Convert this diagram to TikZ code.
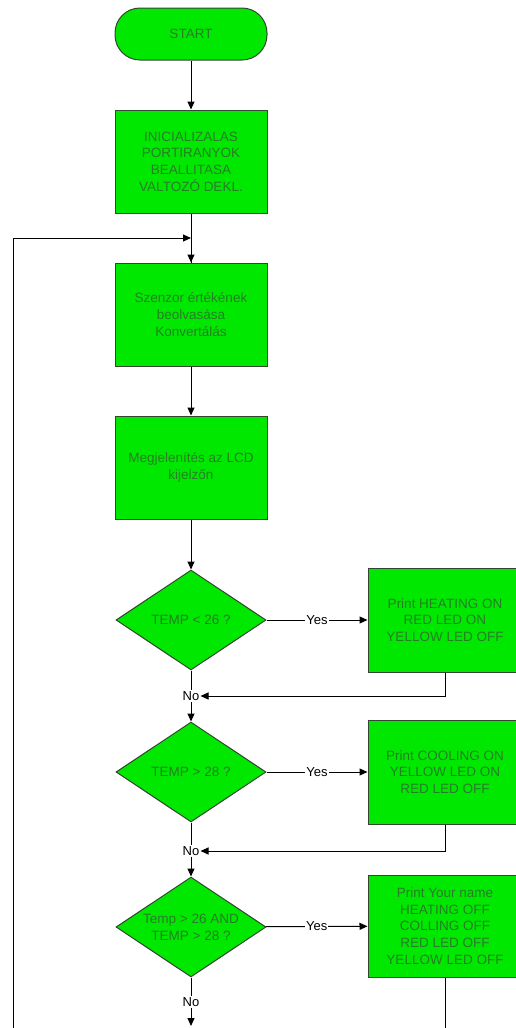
\documentclass[tikz,border=0pt]{standalone}
\usepackage{fontspec}
\setmainfont{Liberation Sans}
\usepackage{tikz}
\usetikzlibrary{arrows.meta,positioning}
\usetikzlibrary{shapes.geometric}
\definecolor{boxgreen}{RGB}{0,232,0}
\definecolor{boxtext}{RGB}{40,125,40}
\definecolor{boxline}{RGB}{50,70,50}

\begin{document}
\begin{tikzpicture}[x=1pt, y=-1pt,
        every node/.style={font=\fontsize{13.5}{16.7}\selectfont},
        terminal/.style={rectangle, rounded corners=25pt, draw=boxline, fill=boxgreen, text=boxtext, line width=1pt, minimum width=152pt, minimum height=52pt},
        process/.style={rectangle, draw=boxline, fill=boxgreen, text=boxtext, line width=1pt, align=center, minimum width=152pt, minimum height=103pt},
        decision/.style={diamond, aspect=1.5, draw=boxline, fill=boxgreen, text=boxtext, line width=1pt, align=center, inner sep=0pt, minimum width=150pt, minimum height=100pt},
        flowlabel/.style={fill=white, inner sep=1pt, font=\fontsize{13}{15}\selectfont},
        flow/.style={line width=1pt, -{Triangle[length=8pt,width=7pt]}}]
        \useasboundingbox (0,0) rectangle (515,1028);
        \def\mainx{191}
        \def\sidex{445}

        % main column
        \node(start) [terminal] at (\mainx,34) {START};
        \node(init) [process] at (\mainx,161.5) {INICIALIZALAS\\PORTIRANYOK\\BEALLITASA\\VALTOZÓ DEKL.};
        \node(read) [process] at (\mainx,314.5) {Szenzor értékének\\beolvasása\\Konvertálás};
        \node(lcd) [process] at (\mainx,467.5) {Megjelenítés az LCD\\kijelzőn};

        % decisions
        \node(dec1) [decision] at (\mainx,620) {TEMP < 26 ?};
        \node(dec2) [decision] at (\mainx,772) {TEMP > 28 ?};
        \node(dec3) [decision] at (\mainx,927) {Temp > 26 AND\\TEMP > 28 ?};

        % actions
        \node(heat) [process, minimum width=154pt, minimum height=104pt] at (\sidex,620) {Print HEATING ON\\RED LED ON\\YELLOW LED OFF};
        \node(cool) [process, minimum width=154pt, minimum height=104pt] at (\sidex,772) {Print COOLING ON\\YELLOW LED ON\\RED LED OFF};
        \node(name) [process, minimum width=154pt, minimum height=102pt] at (\sidex,926) {Print Your name\\HEATING OFF\\COLLING OFF\\RED LED OFF\\YELLOW LED OFF};

        % No labels
        \node(no1) [flowlabel] at (\mainx,696) {No};
        \node(no2) [flowlabel] at (\mainx,851) {No};
        \node(no3) [flowlabel] at (\mainx,1002) {No};

        \coordinate(join) at (\mainx,238);
        \coordinate(loopend) at (13,1028);
        \coordinate(downend) at (\mainx,1026);
        \coordinate(nameend) at (\sidex,1028);

        \draw[flow] (start) -- (init);
        \draw[line width=1pt] (init) -- (read);
        \draw[flow] (join) -- (read);
        \draw[flow] (loopend) |- (join);
        \draw[flow] (read) -- (lcd);
        \draw[flow] (lcd) -- (dec1);

        \draw[flow] (dec1) -- node[flowlabel] {Yes} (heat);
        \draw[line width=1pt] (dec1) -- (no1);
        \draw[flow] (heat.south) |- (no1.east);
        \draw[flow] (no1) -- (dec2);

        \draw[flow] (dec2) -- node[flowlabel] {Yes} (cool);
        \draw[line width=1pt] (dec2) -- (no2);
        \draw[flow] (cool.south) |- (no2.east);
        \draw[flow] (no2) -- (dec3);

        \draw[flow] (dec3) -- node[flowlabel] {Yes} (name);
        \draw[line width=1pt] (dec3) -- (no3);
        \draw[flow] (no3) -- (downend);
        \draw[line width=1pt] (name) -- (nameend);
    \end{tikzpicture}
\end{document}
